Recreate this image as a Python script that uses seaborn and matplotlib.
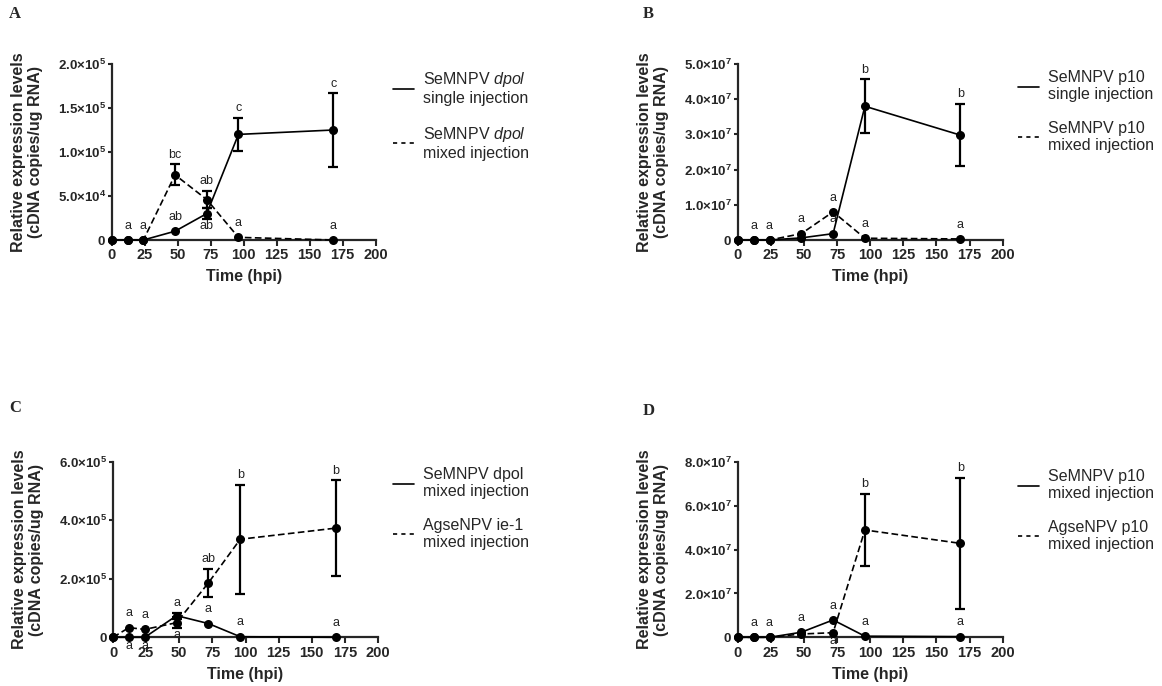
import numpy as np
import pandas as pd
import matplotlib
matplotlib.use('Agg')
import matplotlib.pyplot as plt
import seaborn as sns
from matplotlib.lines import Line2D
from matplotlib.ticker import FuncFormatter

# Sampling times (hours post injection)
time_hpi = [0, 12, 24, 48, 72, 96, 168]

# Panel A - SeMNPV dpol
a_single_mean = [0, 0, 0, 1.0e4, 3.0e4, 1.20e5, 1.25e5]
a_single_sem = [0, 0, 0, 0, 6.0e3, 1.9e4, 4.2e4]
a_single_letters = ['', 'a', 'a', 'ab', 'ab', 'c', 'c']
a_single_below = [72]
a_mixed_mean = [0, 0, 0, 7.4e4, 4.6e4, 3.0e3, 0]
a_mixed_sem = [0, 0, 0, 1.2e4, 1.0e4, 0, 0]
a_mixed_letters = ['', '', '', 'bc', 'ab', 'a', 'a']
a_mixed_below = []

# Panel B - SeMNPV p10
b_single_mean = [0, 0, 0, 6.0e5, 1.8e6, 3.8e7, 2.98e7]
b_single_sem = [0, 0, 0, 0, 0, 7.7e6, 8.9e6]
b_single_letters = ['', 'a', 'a', '', 'a', 'b', 'b']
b_single_below = []
b_mixed_mean = [0, 0, 0, 1.8e6, 8.0e6, 5.0e5, 3.0e5]
b_mixed_sem = [0, 0, 0, 0, 0, 0, 0]
b_mixed_letters = ['', '', '', 'a', 'a', 'a', 'a']
b_mixed_below = []

# Panel C - SeMNPV dpol vs AgseNPV ie-1 (mixed injection)
c_se_mean = [0, 0, 0, 7.4e4, 4.7e4, 2.0e3, 0]
c_se_sem = [0, 0, 0, 1.0e4, 0, 0, 0]
c_se_letters = ['', 'a', 'a', 'a', 'a', 'a', 'a']
c_se_below = [12, 24]
c_ag_mean = [0, 3.3e4, 2.7e4, 5.0e4, 1.86e5, 3.35e5, 3.73e5]
c_ag_sem = [0, 0, 0, 1.8e4, 4.9e4, 1.86e5, 1.64e5]
c_ag_letters = ['', 'a', 'a', 'a', 'ab', 'b', 'b']
c_ag_below = [48]

# Panel D - SeMNPV p10 vs AgseNPV p10 (mixed injection)
d_se_mean = [0, 0, 0, 2.3e6, 7.9e6, 5.0e5, 3.0e5]
d_se_sem = [0, 0, 0, 0, 0, 0, 0]
d_se_letters = ['', 'a', 'a', 'a', 'a', 'a', 'a']
d_se_below = []
d_ag_mean = [0, 0, 0, 1.5e6, 2.1e6, 4.89e7, 4.28e7]
d_ag_sem = [0, 0, 0, 0, 0, 1.64e7, 3.0e7]
d_ag_letters = ['', '', '', '', 'a', 'b', 'b']
d_ag_below = [72]

sns.set_theme(style='ticks')
plt.rcParams['font.family'] = ['Liberation Sans', 'DejaVu Sans']
plt.rcParams['mathtext.fontset'] = 'custom'
plt.rcParams['mathtext.rm'] = 'Liberation Sans'
plt.rcParams['mathtext.it'] = 'Liberation Sans:italic'
plt.rcParams['mathtext.bf'] = 'Liberation Sans:bold'

W, H = 1162, 686
fig = plt.figure(figsize=(W / 100, H / 100), dpi=100)


def sci_label(v, pos):
    if v == 0:
        return r'$\mathbf{0}$'
    exp = int(np.floor(np.log10(v)))
    return r'$\mathbf{%.1f{\times}10^{%d}}$' % (v / 10 ** exp, exp)


def add_letters(ax, mean, sem, letters, below):
    for t, m, e, lab in zip(time_hpi, mean, sem, letters):
        if not lab:
            continue
        if t in below:
            ax.annotate(lab, (t, m - e), xytext=(0, -1 if e else -2), textcoords='offset points',
                        ha='center', va='top', fontsize=9, color='#222222', annotation_clip=False)
        else:
            ax.annotate(lab, (t, m + e), xytext=(0, 2.5 if e else 6), textcoords='offset points',
                        ha='center', va='bottom', fontsize=9, color='#222222', annotation_clip=False)


def draw_panel(rect, letter, letter_xy, ymax, ystep, s1, s2, names, leg_xy):
    ax = fig.add_axes(rect)
    df = pd.DataFrame({
        'time': time_hpi * 2,
        'value': list(s1[0]) + list(s2[0]),
        'series': [names[0]] * len(time_hpi) + [names[1]] * len(time_hpi),
    })
    sns.lineplot(data=df, x='time', y='value', style='series', ax=ax,
                 dashes={names[0]: '', names[1]: (4, 2)}, markers={names[0]: 'o', names[1]: 'o'},
                 color='black', linewidth=1.2, markersize=6.5, markeredgewidth=0,
                 errorbar=None, legend=False, clip_on=False, zorder=4)
    for mean, sem in (s1[:2], s2[:2]):
        sem = np.array(sem)
        keep = sem > 0
        ax.errorbar(np.array(time_hpi)[keep], np.array(mean)[keep], yerr=sem[keep], fmt='none',
                    ecolor='black', elinewidth=1.6, capsize=3.3, capthick=1.6, clip_on=False, zorder=3)
    add_letters(ax, *s1)
    add_letters(ax, *s2)

    ax.set_xlim(0, 200)
    ax.set_ylim(0, ymax)
    ax.set_xticks(np.arange(0, 201, 25))
    ax.set_yticks(np.arange(0, ymax + ystep / 2, ystep))
    ax.yaxis.set_major_formatter(FuncFormatter(sci_label))
    ax.tick_params(axis='x', labelsize=10.5, width=1.5, length=4, pad=2)
    ax.tick_params(axis='y', labelsize=9.5, width=1.5, length=3, pad=1)
    for lab in ax.get_xticklabels():
        lab.set_fontweight('bold')
    sns.despine(ax=ax)
    for sp in ('left', 'bottom'):
        ax.spines[sp].set_linewidth(1.6)
    ax.set_xlabel('Time (hpi)', fontsize=11.5, fontweight='bold', labelpad=5)
    ax.set_ylabel('Relative expression levels\n(cDNA copies/ug RNA)', fontsize=11.5,
                  fontweight='bold', labelpad=11, linespacing=1.15)

    handles = [Line2D([], [], color='black', lw=1.2),
               Line2D([], [], color='black', lw=1.2, dashes=(2.5, 2.5))]
    fig.legend(handles, [names[0], names[1]], loc='upper left',
               bbox_to_anchor=(leg_xy[0] / W, 1 - leg_xy[1] / H), frameon=False,
               fontsize=11.5, handlelength=1.3, handletextpad=0.6, labelspacing=1.15,
               borderpad=0, borderaxespad=0)
    fig.text(letter_xy[0] / W, 1 - letter_xy[1] / H, letter, fontsize=12, fontweight='bold',
             family='Liberation Serif', ha='left', va='center')
    return ax


draw_panel([111.7 / W, 1 - 240 / H, 264 / W, 176 / H], 'A', (9, 14), 2.0e5, 5.0e4,
           (a_single_mean, a_single_sem, a_single_letters, a_single_below),
           (a_mixed_mean, a_mixed_sem, a_mixed_letters, a_mixed_below),
           ['SeMNPV $\\mathit{dpol}$\nsingle injection', 'SeMNPV $\\mathit{dpol}$\nmixed injection'],
           (393, 70))
draw_panel([737.7 / W, 1 - 240 / H, 265 / W, 176 / H], 'B', (643, 14), 5.0e7, 1.0e7,
           (b_single_mean, b_single_sem, b_single_letters, b_single_below),
           (b_mixed_mean, b_mixed_sem, b_mixed_letters, b_mixed_below),
           ['SeMNPV p10\nsingle injection', 'SeMNPV p10\nmixed injection'],
           (1018, 70))
draw_panel([113 / W, 1 - 637.3 / H, 265 / W, 175.6 / H], 'C', (9, 408), 6.0e5, 2.0e5,
           (c_se_mean, c_se_sem, c_se_letters, c_se_below),
           (c_ag_mean, c_ag_sem, c_ag_letters, c_ag_below),
           ['SeMNPV dpol\nmixed injection', 'AgseNPV ie-1\nmixed injection'],
           (393, 467))
draw_panel([737.7 / W, 1 - 637.3 / H, 265 / W, 175.6 / H], 'D', (643, 411), 8.0e7, 2.0e7,
           (d_se_mean, d_se_sem, d_se_letters, d_se_below),
           (d_ag_mean, d_ag_sem, d_ag_letters, d_ag_below),
           ['SeMNPV p10\nmixed injection', 'AgseNPV p10\nmixed injection'],
           (1018, 469))

fig.savefig('out.png', dpi=100, facecolor='white')
